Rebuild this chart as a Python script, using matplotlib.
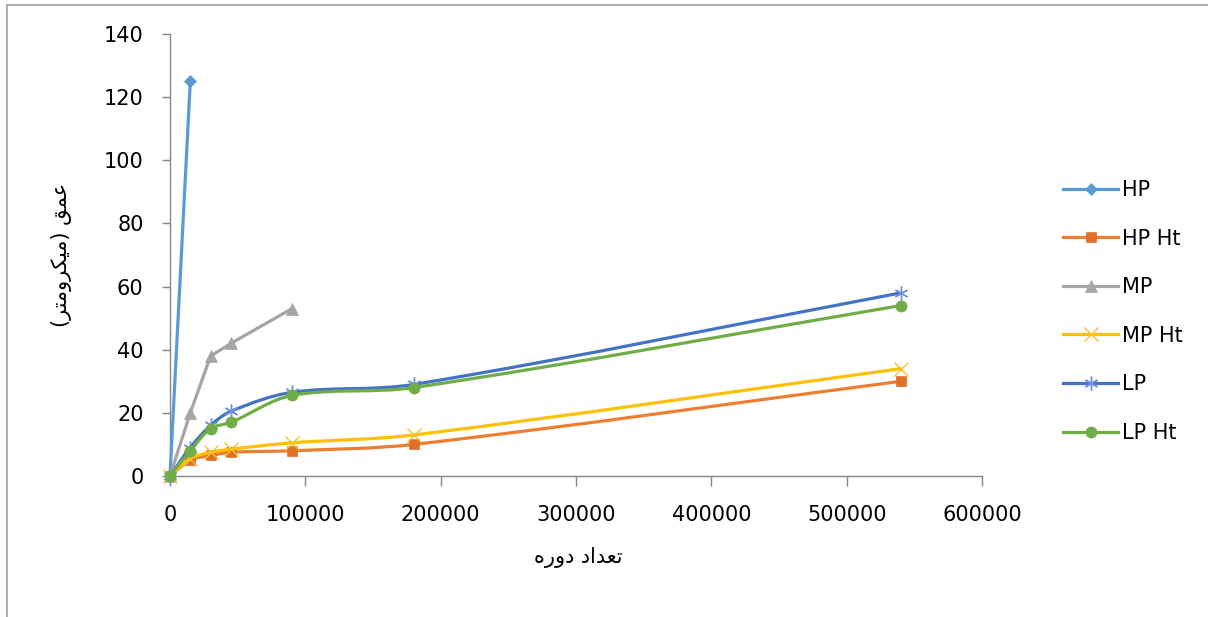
import numpy as np
import matplotlib
matplotlib.use("Agg")
import matplotlib.pyplot as plt
from matplotlib.path import Path
from matplotlib.patches import PathPatch
from matplotlib.lines import Line2D

# cycles and wear depth (micrometre)
cycles = [0, 15000, 30000, 45000, 90000, 180000, 540000]

hp = [0, 125]
hp_ht = [0, 5, 6.5, 7.5, 8, 10, 30]
mp = [0, 20, 38, 42, 53]
mp_ht = [0, 5.5, 7.5, 8.5, 10.5, 13, 34]
lp = [0, 9, 16, 20.5, 26.5, 29, 58]
lp_ht = [0, 8, 15, 17, 25.5, 28, 54]

names = ["HP", "HP Ht", "MP", "MP Ht", "LP", "LP Ht"]
series = [hp, hp_ht, mp, mp_ht, lp, lp_ht]
smooth = [False, True, False, True, True, True]
colors = ["#5B9BD5", "#ED7D31", "#A5A5A5", "#FFC000", "#4472C4", "#70AD47"]
marker_colors = ["#5B9BD5", "#E07028", "#A5A5A5", "#F8C030", "#7090DC", "#70AD47"]
markers = ["D", "s", "^", "x", (6, 2, 0), "o"]
msizes = [6.5, 7.8, 8.5, 9.5, 10, 8]

# Persian labels, pre-shaped (presentation forms, visual order)
xlabel = "\uFEE9\uFEAD\uFEED\uFEA9 \uFEA9\uFE8D\uFEAA\uFECC\uFE97"
ylabel = "(\uFEAE\uFE98\uFEE3\uFEED\uFEAE\uFEDC\uFEF4\uFEE3) \uFED6\uFEE4\uFECB"

# pixel size of the plot area, used to smooth the lines in screen space
AX_W, AX_H = 812, 442
XMAX, YMAX = 600000, 140


def smooth_path(xs, ys):
    # smoothed line (bezier, tangent from neighbours, length from the segment)
    sx, sy = AX_W / XMAX, AX_H / YMAX
    pts = np.column_stack([np.array(xs) * sx, np.array(ys) * sy]).astype(float)
    n = len(pts)
    tang = []
    for i in range(n):
        a = pts[max(i - 1, 0)]
        b = pts[min(i + 1, n - 1)]
        d = b - a
        tang.append(d / np.hypot(*d))
    verts = [pts[0]]
    codes = [Path.MOVETO]
    for i in range(n - 1):
        seg = np.hypot(*(pts[i + 1] - pts[i]))
        c1 = pts[i] + tang[i] * seg / 3
        c2 = pts[i + 1] - tang[i + 1] * seg / 3
        verts += [c1, c2, pts[i + 1]]
        codes += [Path.CURVE4] * 3
    verts = np.array(verts) / [sx, sy]
    return Path(verts, codes)


plt.rcParams['font.family'] = ['DejaVu Sans']
fig = plt.figure(figsize=(12.08, 6.17), dpi=100)
ax = fig.add_axes([170 / 1208, 1 - 476 / 617, AX_W / 1208, AX_H / 617])

handles = []
for k, (name, ys) in enumerate(zip(names, series)):
    xs = cycles[:len(ys)]
    z = 3 + k
    mfc = marker_colors[k]
    thin = markers[k] == "x" or isinstance(markers[k], tuple)
    if smooth[k]:
        patch = PathPatch(smooth_path(xs, ys), facecolor="none", edgecolor=colors[k],
                          lw=2.3, zorder=z, clip_on=False, capstyle="round", joinstyle="round")
        ax.add_patch(patch)
    else:
        ax.plot(xs, ys, color=colors[k], lw=2.3, zorder=z, clip_on=False,
                solid_capstyle="round")
    ax.plot(xs, ys, linestyle="none", marker=markers[k], ms=msizes[k],
            color=mfc, mec=mfc, mew=1.0 if thin else 0.5, zorder=z + 0.5, clip_on=False)
    handles.append(Line2D([0], [0], color=colors[k], lw=2.3, marker=markers[k],
                          ms=msizes[k], mfc=mfc, mec=mfc, mew=1.0 if thin else 0.5))

ax.set_xlim(0, XMAX)
ax.set_ylim(0, YMAX)
ax.set_xticks(np.arange(0, XMAX + 1, 100000))
ax.set_yticks(np.arange(0, YMAX + 1, 20))
ax.set_xticklabels([str(v) for v in range(0, XMAX + 1, 100000)])

for s in ["top", "right"]:
    ax.spines[s].set_visible(False)
for s in ["left", "bottom"]:
    ax.spines[s].set_color("#868686")
    ax.spines[s].set_linewidth(1.0)
ax.tick_params(axis="both", direction="out", color="#868686", labelsize=15,
               labelcolor="#000000", width=1.0)
ax.tick_params(axis="x", length=7, pad=14)
ax.tick_params(axis="y", length=6, pad=13)

fig.text(578 / 1208, 1 - 557 / 617, xlabel, fontsize=15, ha="center", va="center")
fig.text(62 / 1208, 1 - 255 / 617, ylabel, fontsize=15, ha="center", va="center",
         rotation=90)

fig.legend(handles=handles, labels=names, loc="center left",
           bbox_to_anchor=(1063 / 1208, 1 - 311.5 / 617), frameon=False,
           fontsize=15, labelspacing=1.37, handlelength=2.65, handletextpad=0.2,
           borderpad=0, borderaxespad=0)

# chart area frame
fig.add_artist(Line2D([7 / 1208, 1], [1 - 5 / 617, 1 - 5 / 617], color="#A0A0A0", lw=1.2,
                      transform=fig.transFigure))
fig.add_artist(Line2D([7 / 1208, 7 / 1208], [0, 1 - 5 / 617], color="#A0A0A0", lw=1.2,
                      transform=fig.transFigure))

plt.savefig("out.png", dpi=100)
